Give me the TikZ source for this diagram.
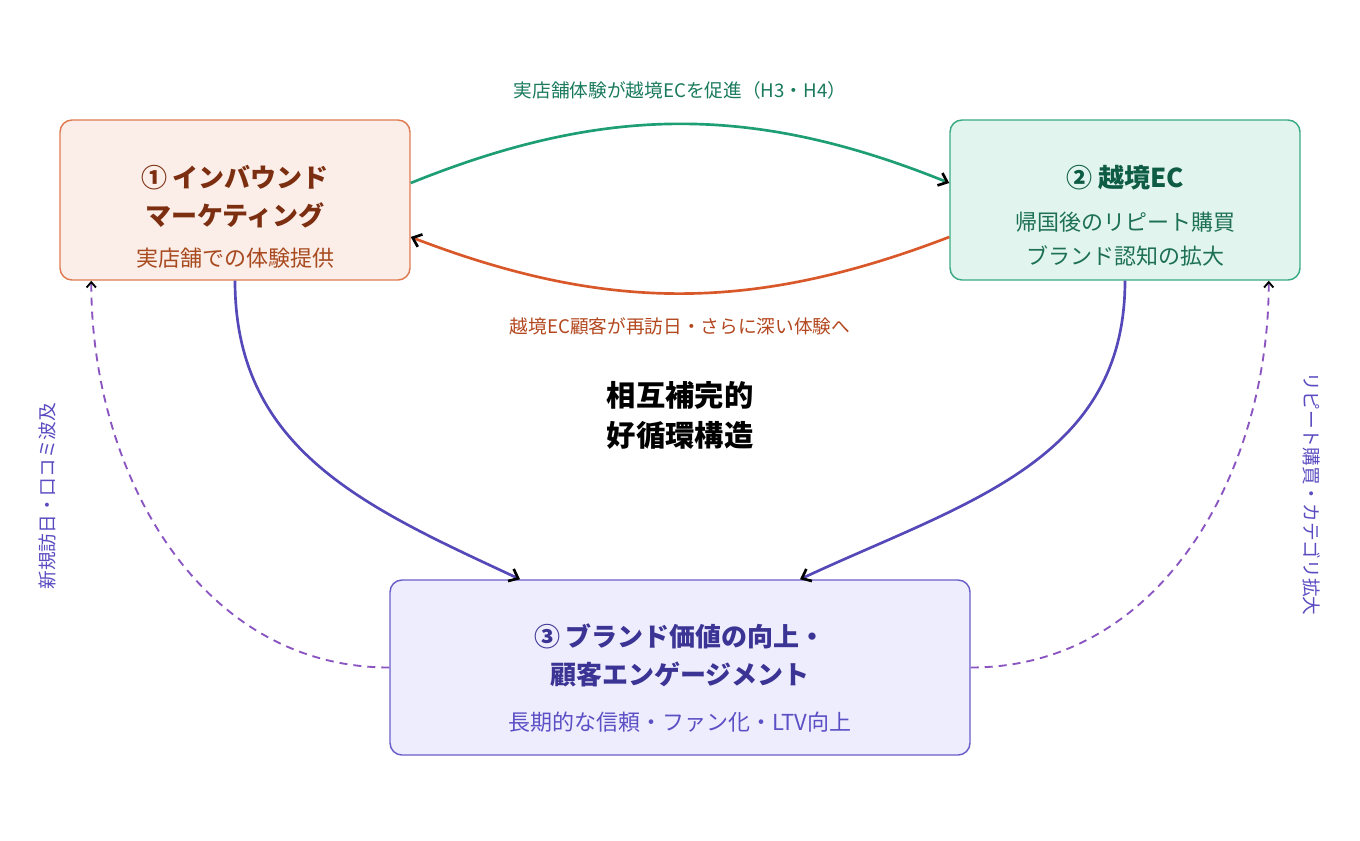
\documentclass[tikz,border=0pt]{standalone}
\usepackage{fontspec}
\setmainfont{Noto Sans CJK JP}
\usetikzlibrary{arrows.meta, positioning}

\definecolor{inbFill}{HTML}{FBEDE7}
\definecolor{inbLine}{HTML}{E07A50}
\definecolor{inbTitle}{HTML}{7B2E10}
\definecolor{inbText}{HTML}{A84A20}
\definecolor{ecFill}{HTML}{E1F5EE}
\definecolor{ecLine}{HTML}{3AAA82}
\definecolor{ecTitle}{HTML}{0F5C45}
\definecolor{ecText}{HTML}{1E7055}
\definecolor{brFill}{HTML}{EEEDFD}
\definecolor{brLine}{HTML}{6A5FC8}
\definecolor{brTitle}{HTML}{3B3494}
\definecolor{brText}{HTML}{5B4FC5}
\definecolor{greenArc}{HTML}{1E9E74}
\definecolor{greenLbl}{HTML}{1A7A5C}
\definecolor{orangeArc}{HTML}{D9582A}
\definecolor{orangeLbl}{HTML}{B3471F}
\definecolor{purpleArc}{HTML}{5548B8}
\definecolor{dashArc}{HTML}{8A55C0}
\definecolor{sideLbl}{HTML}{5A4CC0}

\begin{document}
\begin{tikzpicture}[
		x=0.75pt, y=-0.75pt,
		box/.style={rectangle, rounded corners=9pt, line width=1.1pt, inner sep=0pt},
		title/.style={align=center, font=\fontsize{19.5}{28.5}\selectfont\bfseries},
		subtitle/.style={align=center, font=\fontsize{16.5}{25.5}\selectfont},
		label/.style={font=\fontsize{14}{16}\selectfont},
		loop/.style={line width=2pt, -{Straight Barb[color=black, length=6pt, width=10pt]}},
		back/.style={line width=1.4pt, dash pattern=on 6pt off 4.5pt, -{Straight Barb[color=black, length=4pt, width=7pt]}}
		]
		\useasboundingbox (0,0) rectangle (1360,840);
		
		% Main boxes
		\node[box, draw=inbLine, fill=inbFill, minimum width=262.5pt, minimum height=120pt] (inbound) at (235,200) {};
		\node[box, draw=ecLine, fill=ecFill, minimum width=262.5pt, minimum height=120pt] (crossec) at (1125,200) {};
		\node[box, draw=brLine, fill=brFill, minimum width=435pt, minimum height=131.25pt] (brand) at (680,667.5) {};
		
		% Texts inside the boxes
		\node[title, text=inbTitle] (inboundT) at (235,197) {① インバウンド\\マーケティング};
		\node[subtitle, text=inbText] (inboundS) at (235,258) {実店舗での体験提供};
		\node[title, text=ecTitle] (crossecT) at (1125,178) {② 越境EC};
		\node[subtitle, text=ecText] (crossecS) at (1125,239) {帰国後のリピート購買\\ブランド認知の拡大};
		\node[title, text=brTitle] (brandT) at (680,655) {③ ブランド価値の向上・\\顧客エンゲージメント};
		\node[subtitle, text=brText] (brandS) at (680,722) {長期的な信頼・ファン化・LTV向上};
		
		% Centre label
		\node[align=center, font=\fontsize{22}{30}\selectfont\bfseries] (cycle) at (680,415) {相互補完的\\好循環構造};
		
		% Arrows between 1 and 2
		\draw[loop, greenArc] ([yshift=12.75pt]inbound.east) to[out=22, in=158] ([yshift=12.75pt]crossec.west);
		\draw[loop, orangeArc] ([yshift=-27.75pt]crossec.west) to[out=-159, in=-21] ([yshift=-27.75pt]inbound.east);
		\node[label, text=greenLbl] (promote) at (680,90) {実店舗体験が越境ECを促進（H3・H4）};
		\node[label, text=orangeLbl] (revisit) at (680,326) {越境EC顧客が再訪日・さらに深い体験へ};
		
		% Arrows down to 3
		\draw[loop, purpleArc] (inbound.south) to[out=-90, in=155, looseness=1.05] ([xshift=-120pt]brand.north);
		\draw[loop, purpleArc] (crossec.south) to[out=-90, in=25, looseness=1.05] ([xshift=90pt]brand.north);
		
		% Dashed feedback arcs
		\draw[back, dashArc] (brand.west) to[out=180, in=-90] ([xshift=24pt]inbound.south west);
		\draw[back, dashArc] (brand.east) to[out=0, in=-90] ([xshift=-24pt]crossec.south east);
		\node[label, text=sideLbl, rotate=90] (newvisit) at (47,496) {新規訪日・口コミ波及};
		\node[label, text=sideLbl, rotate=-90] (repeat) at (1312,494) {リピート購買・カテゴリ拡大};
		
	\end{tikzpicture}
\end{document}
